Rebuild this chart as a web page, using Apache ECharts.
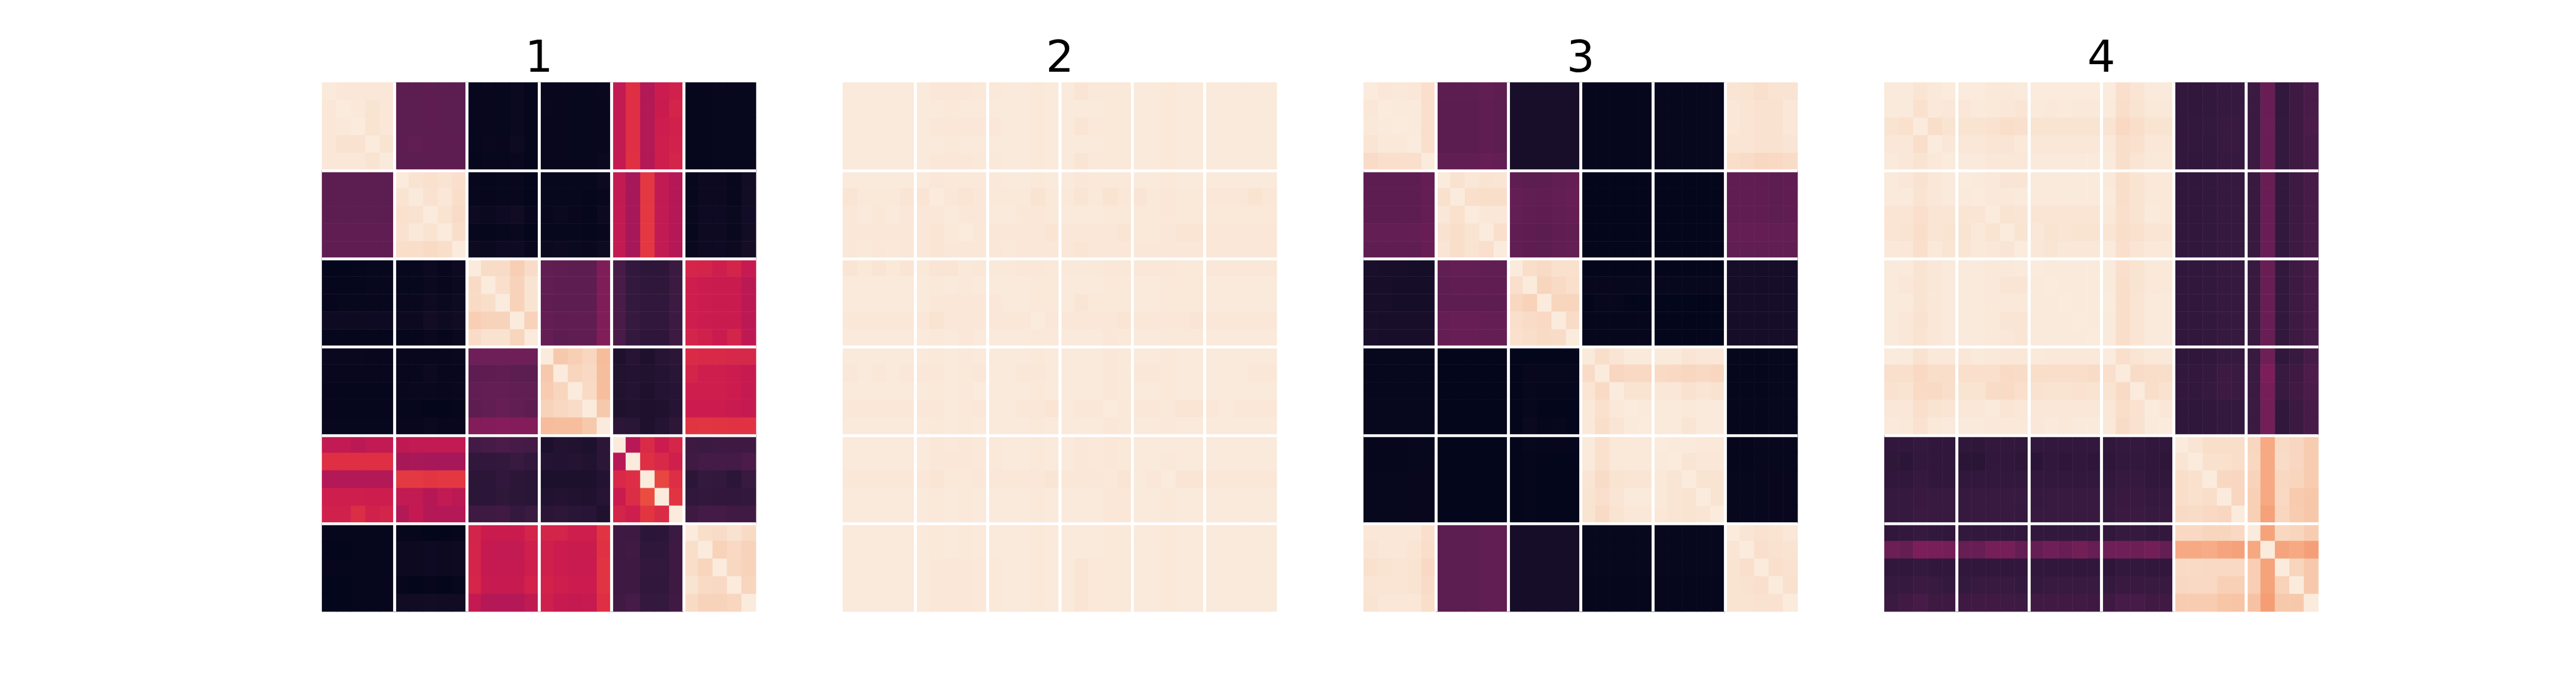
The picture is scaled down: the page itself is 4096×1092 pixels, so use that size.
<!DOCTYPE html>
<html><head><meta charset="utf-8">
<style>html,body{margin:0;padding:0;background:#fff}#c{width:4096px;height:1092px}</style>
<script src="https://cdn.jsdelivr.net/npm/echarts@6/dist/echarts.min.js"></script>
</head><body><div id="c"></div>
<script>
const titles = ['1','2','3','4'];
const rocket = ['#03051a','#1c102c','#35193e','#521c4d','#701f57','#8e1c5b','#ad1759','#cb1b4f','#e13342','#ed5440','#f37651','#f5966d','#f6b48f','#f8d0b6','#faebdd'];
const panel1 = [
[254,252,252,252,252, 61,61,62,61,61, 3,4,3,6,2, 4,4,3,3,5, 122,143,113,128,132, 2,2,4,3,3],
[252,255,253,250,252, 61,61,62,61,61, 3,4,3,6,2, 5,4,3,3,4, 122,143,113,127,134, 2,2,3,3,3],
[252,253,255,250,252, 61,61,62,61,61, 3,4,3,6,2, 4,4,3,3,4, 122,143,113,129,132, 2,2,3,3,3],
[252,249,249,255,250, 62,64,62,62,62, 3,5,4,8,2, 4,4,3,3,4, 122,143,113,130,133, 2,2,3,3,3],
[252,252,252,250,254, 61,61,62,62,62, 2,3,3,5,2, 4,4,3,3,6, 123,144,113,130,134, 2,2,3,3,3],
[61,61,61,61,61, 255,250,248,250,247, 3,2,3,4,1, 3,3,3,3,7, 122,105,148,122,114, 3,7,7,4,11],
[61,61,61,61,61, 250,254,249,252,246, 3,2,3,4,1, 3,3,3,2,4, 122,105,148,122,114, 3,7,7,4,11],
[61,61,61,61,61, 248,249,255,250,245, 8,6,9,10,4, 4,6,4,2,7, 122,105,148,122,114, 5,9,9,6,12],
[63,63,63,63,63, 249,253,250,255,246, 3,2,3,5,1, 3,3,3,2,4, 122,105,148,122,114, 3,8,8,5,11],
[63,63,63,63,63, 246,246,244,246,255, 8,6,9,9,4, 6,7,6,5,8, 122,105,148,122,114, 5,9,9,7,13],
[1,1,2,3,3, 3,3,7,4,7, 255,245,245,236,245, 64,63,62,62,82, 48,35,31,31,40, 136,134,130,134,125],
[2,2,2,3,3, 3,3,6,4,6, 244,255,247,239,250, 64,62,62,62,82, 49,36,32,32,41, 130,128,127,127,118],
[2,3,3,4,3, 5,5,9,6,9, 244,246,255,238,250, 63,62,62,62,82, 49,36,33,33,41, 130,128,127,127,118],
[8,9,8,9,9, 7,7,11,8,10, 236,239,239,255,238, 66,63,63,63,82, 49,37,33,33,41, 130,128,127,127,118],
[2,2,2,2,2, 2,2,5,2,5, 245,249,249,240,255, 66,62,63,63,83, 49,36,31,31,41, 134,132,127,134,120],
[5,5,5,4,4, 4,3,3,3,5, 72,72,72,72,72, 255,232,236,241,224, 20,26,20,26,30, 140,138,138,137,137],
[4,4,4,4,4, 4,4,7,4,4, 62,62,63,61,61, 232,255,240,243,225, 22,23,22,24,28, 134,130,130,128,125],
[2,2,2,2,2, 4,5,5,4,5, 64,65,65,64,64, 234,240,255,244,225, 22,24,20,24,26, 130,130,130,128,124],
[2,2,2,2,2, 2,2,1,1,2, 62,64,67,64,62, 239,242,245,255,232, 20,22,20,21,26, 128,128,128,126,124],
[3,3,3,3,3, 4,4,6,3,4, 84,84,86,84,84, 224,225,225,232,255, 30,28,20,24,31, 146,147,146,145,145],
[122,122,118,122,122, 120,122,122,122,122, 45,48,50,48,46, 18,23,22,20,30, 255,116,140,128,136, 42,40,42,42,42],
[143,143,143,143,143, 106,107,105,105,105, 33,33,35,38,34, 24,23,24,22,30, 116,255,143,138,131, 43,46,46,46,50],
[113,113,113,113,113, 149,149,147,148,148, 30,30,33,30,28, 18,19,18,19,23, 138,142,255,156,142, 30,36,35,30,38],
[130,130,130,129,129, 122,122,115,122,118, 30,30,32,30,28, 22,23,22,21,26, 127,141,160,255,146, 33,35,33,33,35],
[132,132,141,132,134, 113,124,114,114,114, 42,42,44,36,40, 29,31,28,27,21, 134,130,147,140,255, 42,46,46,44,44],
[2,2,2,2,2, 2,2,1,1,2, 134,127,127,127,134, 134,134,130,130,146, 42,42,30,30,40, 255,246,245,249,244],
[1,1,2,2,2, 7,7,9,7,8, 134,124,122,122,131, 131,128,127,127,144, 42,44,32,32,42, 246,255,238,243,239],
[2,2,2,2,2, 7,7,9,7,8, 134,124,123,123,130, 131,128,126,126,146, 42,42,34,34,42, 246,240,255,242,239],
[1,1,2,2,2, 2,1,2,1,3, 136,125,125,125,133, 133,130,128,128,146, 42,42,33,33,42, 250,244,243,255,240],
[1,1,2,2,2, 10,10,11,10,10, 124,114,114,114,121, 131,125,123,125,143, 44,47,36,36,44, 244,239,239,241,255]
];
const panel2 = [
[254,254,254,254,254, 254,252,252,252,253, 253,254,254,253,254, 254,251,253,253,253, 254,254,253,254,254, 254,254,254,254,254],
[254,254,254,254,254, 254,254,253,254,254, 254,254,254,253,254, 254,254,254,253,253, 254,254,253,254,254, 254,254,254,254,254],
[254,254,254,254,254, 254,252,252,252,252, 252,254,254,253,254, 254,251,253,253,253, 254,254,253,254,254, 254,254,254,254,254],
[254,254,254,254,254, 254,254,253,254,254, 254,254,254,253,254, 254,254,254,253,253, 254,254,253,254,254, 254,254,254,254,254],
[254,254,254,254,254, 254,252,252,252,253, 253,254,254,253,254, 254,251,253,253,253, 254,254,253,254,254, 254,254,254,254,254],
[254,254,254,254,254, 254,252,253,253,253, 253,254,254,253,254, 254,252,253,253,253, 254,254,253,254,254, 254,254,254,254,254],
[251,253,253,253,251, 251,255,252,251,252, 253,253,253,250,253, 253,251,253,250,252, 251,253,252,253,253, 252,252,252,250,252],
[252,254,252,254,252, 252,252,254,252,252, 254,254,252,252,253, 254,254,254,253,253, 253,253,252,253,253, 253,253,253,253,253],
[252,252,252,252,252, 252,251,253,255,252, 252,252,252,252,251, 252,252,252,252,251, 253,253,252,251,251, 252,252,252,252,252],
[252,253,252,253,252, 252,251,252,252,252, 252,253,252,252,252, 252,251,252,252,252, 252,252,252,252,252, 252,252,252,252,252],
[251,253,251,253,251, 253,251,251,253,252, 253,253,252,252,253, 253,253,253,252,252, 252,252,252,253,253, 252,252,252,252,252],
[254,254,254,254,254, 254,253,254,253,254, 254,254,254,253,253, 254,254,254,253,253, 254,254,253,253,253, 254,254,254,254,254],
[254,254,254,254,254, 254,252,252,252,252, 252,254,254,253,253, 254,251,253,253,253, 254,254,253,253,253, 254,254,254,254,254],
[252,252,252,252,252, 252,250,252,252,252, 252,252,252,255,252, 252,252,252,252,251, 252,252,252,252,251, 252,252,252,252,252],
[254,254,254,254,254, 254,253,254,252,254, 254,254,254,253,253, 254,254,254,252,253, 254,254,253,253,253, 254,254,254,254,254],
[254,254,254,254,254, 254,253,254,253,254, 254,254,254,253,254, 254,254,254,252,253, 254,254,253,254,254, 254,254,254,254,254],
[252,254,252,254,252, 252,252,254,253,252, 254,254,252,252,254, 254,254,254,252,253, 252,252,253,254,254, 254,254,254,252,252],
[254,254,254,254,254, 254,253,254,253,255, 254,254,254,253,254, 254,254,254,252,253, 254,254,253,254,254, 254,254,254,254,254],
[252,252,252,252,252, 252,252,254,253,252, 254,254,252,252,251, 254,252,252,255,253, 252,252,253,251,251, 252,254,252,252,252],
[254,254,254,254,254, 254,253,254,253,254, 254,254,254,253,254, 254,254,254,252,253, 254,254,253,254,254, 254,254,254,254,254],
[254,254,254,254,254, 254,252,253,252,253, 253,254,254,253,254, 254,252,253,252,253, 254,254,254,254,254, 254,254,254,254,254],
[254,254,254,254,254, 254,252,252,252,253, 253,254,254,253,254, 254,252,253,252,253, 254,254,253,254,254, 254,254,254,254,254],
[252,252,252,252,252, 252,251,253,253,252, 252,252,252,252,251, 252,252,252,253,251, 254,252,255,251,251, 252,252,252,252,252],
[254,254,254,254,254, 254,253,254,253,254, 254,254,254,253,254, 254,254,254,252,252, 254,254,253,254,254, 254,254,254,254,254],
[254,254,254,254,254, 254,253,254,253,254, 254,254,254,253,254, 254,254,254,252,252, 254,254,253,254,254, 254,254,254,254,254],
[254,254,254,254,254, 254,253,254,253,254, 254,254,254,253,254, 254,254,254,253,253, 254,254,253,254,254, 254,254,254,254,254],
[254,254,254,254,254, 254,253,254,253,254, 254,254,254,253,254, 254,254,254,253,253, 254,254,253,254,254, 254,254,254,254,254],
[254,254,254,254,254, 254,252,252,252,253, 253,254,254,253,254, 254,251,253,253,253, 254,254,253,254,254, 254,254,254,254,254],
[254,254,254,254,254, 254,252,252,252,253, 253,254,254,253,254, 254,251,253,253,253, 254,254,253,254,254, 254,254,254,254,254],
[254,254,254,254,254, 254,252,252,252,253, 253,254,254,253,254, 254,251,253,253,253, 254,254,253,254,254, 254,254,254,254,254]
];
const panel3 = [
[255,252,253,252,247, 61,61,61,64,62, 17,17,17,17,17, 2,2,2,2,2, 3,3,3,3,3, 251,250,247,250,250],
[252,255,254,254,247, 60,60,60,63,61, 15,15,15,15,15, 2,2,2,2,2, 3,3,3,3,3, 252,251,249,249,252],
[253,254,255,254,247, 60,60,60,63,61, 15,15,15,15,15, 2,2,2,2,2, 3,3,3,3,3, 252,251,249,249,252],
[251,253,253,255,247, 60,60,60,63,61, 15,15,15,15,15, 2,2,2,2,2, 3,3,3,3,3, 251,251,249,249,251],
[245,247,247,247,255, 64,64,64,67,65, 15,15,15,15,15, 2,2,2,2,2, 3,3,3,3,3, 246,245,242,243,245],
[62,62,62,62,66, 255,249,252,250,251, 63,61,61,64,66, 1,1,1,1,1, 1,1,1,1,1, 63,63,63,62,63],
[62,62,62,62,66, 248,255,247,246,246, 66,64,63,65,67, 1,1,1,1,1, 1,1,1,1,1, 63,63,63,62,63],
[62,62,62,62,66, 252,248,255,252,252, 65,63,62,64,66, 1,1,1,1,1, 1,1,1,1,1, 63,63,63,61,63],
[65,65,65,65,68, 249,246,250,255,247, 63,62,60,63,64, 1,1,1,1,1, 1,1,1,1,1, 66,66,66,65,65],
[63,63,63,63,67, 251,246,250,247,255, 64,62,61,64,65, 1,1,1,1,1, 1,1,1,1,1, 64,64,64,64,64],
[17,15,15,14,14, 64,65,65,64,64, 255,246,244,248,248, 1,1,1,1,1, 1,1,1,1,1, 14,14,14,14,14],
[15,15,14,14,14, 62,63,63,63,63, 247,255,240,244,247, 3,4,3,3,3, 3,3,3,3,3, 14,14,14,14,14],
[15,15,14,14,14, 62,62,62,62,62, 242,238,255,240,240, 1,3,3,1,1, 1,1,1,0,0, 14,14,14,14,14],
[17,15,15,15,15, 66,67,67,66,66, 247,245,243,255,245, 2,2,2,2,2, 1,1,1,1,1, 14,14,14,14,14],
[17,15,15,15,15, 66,67,67,66,66, 248,246,244,245,255, 2,2,2,2,2, 1,1,1,1,1, 14,14,14,14,14],
[3,3,3,3,3, 1,1,1,1,1, 1,1,1,1,1, 254,246,251,254,254, 254,254,251,252,252, 2,2,2,3,3],
[3,3,3,3,3, 1,1,1,1,1, 1,4,3,3,3, 245,255,241,243,243, 244,243,241,243,241, 2,2,2,3,3],
[3,3,3,3,3, 1,1,1,1,1, 1,3,2,2,2, 251,244,255,250,250, 252,252,249,251,249, 2,2,2,3,3],
[3,3,3,3,3, 1,1,1,1,1, 1,3,1,1,1, 253,248,253,255,254, 254,254,253,254,254, 2,2,2,3,3],
[3,3,3,3,3, 1,1,1,1,1, 1,6,2,3,1, 253,246,251,254,255, 254,254,251,254,254, 2,2,2,3,3],
[2,2,2,3,3, 1,1,1,1,1, 1,3,2,2,2, 254,248,253,253,253, 255,254,254,253,253, 2,2,3,3,3],
[2,2,2,3,3, 1,1,1,1,1, 1,2,1,1,1, 254,248,253,253,253, 254,255,251,252,252, 2,2,3,3,3],
[3,3,3,4,4, 1,1,1,1,1, 1,2,1,1,1, 251,245,250,251,251, 253,251,255,250,250, 3,3,3,4,4],
[3,3,3,4,4, 1,1,1,1,1, 1,2,1,1,1, 250,247,251,254,254, 253,251,250,255,250, 3,3,3,4,4],
[3,3,3,4,4, 1,1,1,1,1, 1,2,1,1,1, 250,244,250,252,252, 252,251,250,251,255, 3,3,3,4,4],
[252,252,252,252,247, 61,61,61,64,64, 14,14,14,14,14, 3,3,3,3,3, 3,3,3,3,3, 255,251,249,250,252],
[251,252,252,251,246, 61,61,61,64,64, 14,14,14,14,14, 3,3,3,3,3, 3,3,3,3,3, 251,255,247,249,250],
[248,250,251,250,243, 61,61,61,64,64, 14,14,14,14,14, 3,3,3,3,3, 3,3,3,3,3, 250,247,255,247,249],
[251,251,251,250,245, 61,61,61,64,64, 14,14,14,14,14, 2,2,2,2,2, 2,2,2,2,2, 250,249,247,255,248],
[250,252,252,252,246, 61,61,61,64,64, 14,14,14,14,14, 2,2,2,2,2, 2,2,2,2,2, 250,250,249,249,255]
];
const panel4 = [
[254,254,251,253,255, 255,255,253,253,254, 255,255,255,255,255, 255,247,251,254,254, 34,33,34,37,37, 40,68,35,42,49],
[254,254,248,253,252, 252,254,253,252,251, 254,253,254,253,253, 254,246,250,253,253, 34,33,34,37,37, 40,68,35,42,49],
[250,248,255,246,250, 250,250,249,246,247, 250,250,250,250,250, 250,243,246,250,250, 35,34,36,38,38, 40,69,36,42,50],
[252,252,246,255,252, 252,252,251,251,253, 252,252,252,252,252, 253,246,248,252,252, 35,34,35,38,38, 40,68,36,42,48],
[254,252,250,253,255, 254,254,252,252,252, 254,254,254,254,254, 254,246,251,253,253, 34,33,34,37,37, 40,68,36,42,48],
[254,252,249,252,254, 255,254,253,251,251, 254,254,254,254,254, 253,246,250,253,253, 33,33,34,37,37, 38,68,34,41,48],
[254,254,250,252,254, 254,255,253,253,254, 254,254,254,254,254, 254,246,250,253,253, 33,33,34,37,37, 38,68,34,41,48],
[251,251,247,251,251, 251,251,255,250,251, 251,251,251,251,251, 253,247,250,254,253, 33,33,34,37,37, 38,68,34,41,48],
[251,250,246,251,250, 250,253,250,255,250, 252,250,251,250,250, 251,246,248,251,251, 33,33,34,37,37, 38,68,34,41,48],
[253,252,247,253,251, 251,253,252,251,255, 252,251,252,252,252, 254,247,251,253,253, 33,33,34,37,37, 38,68,34,41,48],
[254,254,250,252,254, 254,254,253,253,254, 255,254,254,254,254, 254,247,250,253,253, 33,33,34,37,37, 38,68,34,41,48],
[254,252,250,252,254, 254,254,253,251,251, 254,255,254,254,254, 254,246,250,253,253, 33,33,34,37,37, 38,68,34,41,48],
[254,254,250,252,254, 254,254,253,253,253, 254,254,255,254,254, 255,246,251,254,254, 33,33,34,37,37, 38,68,34,41,48],
[254,252,249,252,254, 254,254,253,251,251, 254,254,254,255,254, 254,246,251,254,254, 33,33,34,37,37, 38,68,34,41,48],
[254,252,250,252,254, 254,254,253,252,251, 254,254,254,254,255, 254,246,251,254,254, 33,33,34,37,37, 38,68,34,41,48],
[255,254,249,253,253, 252,254,253,252,252, 254,253,253,253,253, 255,247,251,253,253, 32,32,33,37,37, 38,71,33,38,48],
[247,247,243,246,246, 247,247,247,244,245, 246,246,246,246,245, 247,255,245,246,246, 35,35,36,41,40, 40,81,38,42,52],
[249,250,244,244,246, 250,250,245,244,247, 249,250,250,249,250, 250,244,255,246,249, 35,35,37,41,40, 40,76,38,44,50],
[252,252,247,250,251, 252,252,254,251,252, 252,252,252,252,252, 252,246,249,255,252, 32,32,33,36,36, 40,74,33,40,47],
[254,253,249,253,254, 254,254,253,253,253, 252,254,253,254,254, 253,245,249,254,255, 32,32,33,36,36, 40,74,33,40,47],
[33,33,36,33,33, 32,32,34,34,33, 34,34,34,34,34, 33,36,36,33,33, 255,251,246,246,246, 241,212,244,241,234],
[32,30,34,33,33, 29,29,33,33,31, 29,33,31,33,31, 31,34,34,33,31, 251,255,248,248,246, 242,212,245,241,234],
[33,33,37,33,33, 33,34,34,34,34, 34,34,34,34,34, 33,37,37,33,33, 246,248,255,242,241, 239,212,242,240,234],
[37,37,39,38,38, 37,38,38,38,38, 37,38,38,38,38, 37,39,39,37,37, 246,248,246,255,241, 237,212,243,233,231],
[37,37,40,38,38, 37,38,38,38,37, 38,38,38,38,38, 37,40,40,38,38, 244,245,243,241,255, 237,207,241,234,231],
[33,35,37,35,33, 34,34,34,34,33, 34,34,34,34,34, 33,37,37,34,34, 243,243,240,240,243, 255,208,242,240,234],
[70,66,80,78,76, 67,67,76,76,66, 66,72,68,74,67, 72,72,70,74,66, 212,212,214,209,207, 211,255,209,212,206],
[33,33,36,33,33, 33,33,33,33,33, 33,33,33,33,33, 31,35,35,33,33, 244,244,243,243,243, 236,208,255,240,232],
[37,37,40,38,36, 36,38,38,38,36, 36,38,38,38,38, 36,39,39,38,38, 242,243,243,237,237, 236,208,238,255,232],
[40,44,47,42,42, 42,44,44,43,41, 44,44,44,44,42, 42,47,47,44,44, 234,234,234,230,229, 228,205,232,232,255]
];
const panels = [panel1, panel2, panel3, panel4];
const indices = panel1.map((_, i) => i);

const W = 4096, S = W / 5400;
const grids = panels.map((_, i) => ({
  left: (675 + i * 1091.75) * S,
  top: 172.8 * S,
  width: 909.8 * S,
  height: 1108.8 * S,
  containLabel: false
}));
const lineStyle = { color: '#ffffff', width: 4.74 };
const axisBase = {
  type: 'category',
  data: indices,
  z: 5,
  axisLine: { show: false },
  axisTick: { show: false },
  axisLabel: { show: false },
  splitArea: { show: false },
  splitLine: { show: true, interval: 4, showMinLine: false, showMaxLine: false, lineStyle }
};
const option = {
  animation: false,
  backgroundColor: '#ffffff',
  title: titles.map((t, i) => ({
    text: t,
    left: grids[i].left + grids[i].width / 2 - 5,
    top: 56,
    textAlign: 'center',
    textStyle: { fontFamily: 'DejaVu Sans', fontWeight: 'normal', fontSize: 70, color: '#000000' }
  })),
  grid: grids,
  xAxis: panels.map((_, i) => ({ ...axisBase, gridIndex: i })),
  yAxis: panels.map((_, i) => ({ ...axisBase, gridIndex: i, inverse: true })),
  visualMap: { show: false, min: 0, max: 255, calculable: false, inRange: { color: rocket } },
  series: panels.map((p, i) => ({
    type: 'heatmap',
    xAxisIndex: i,
    yAxisIndex: i,
    z: 2,
    itemStyle: { borderWidth: 0 },
    emphasis: { disabled: true },
    data: p.flatMap((row, y) => row.map((v, x) => [x, y, v]))
  }))
};
echarts.init(document.getElementById('c'), null, { renderer: 'canvas' }).setOption(option);
</script></body></html>
